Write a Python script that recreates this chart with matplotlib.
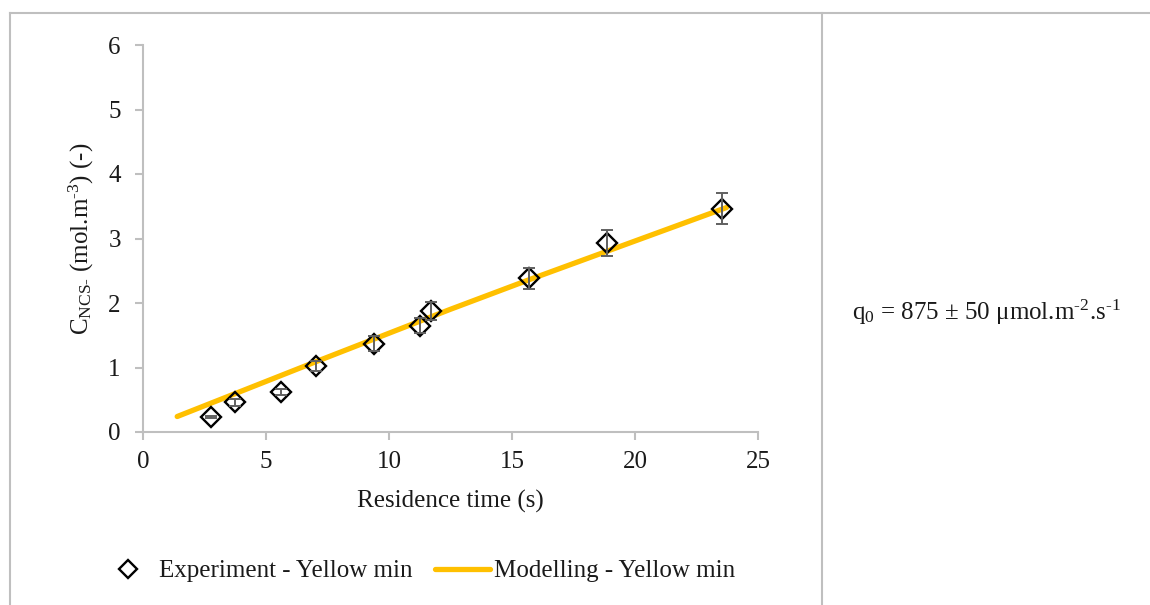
import matplotlib
matplotlib.use("Agg")
import matplotlib.pyplot as plt
from matplotlib.lines import Line2D

plt.rcParams['font.family'] = ['Liberation Serif', 'DejaVu Serif']
plt.rcParams['mathtext.fontset'] = 'custom'
plt.rcParams['mathtext.rm'] = 'Liberation Serif'
plt.rcParams['mathtext.it'] = 'Liberation Serif:italic'
plt.rcParams['mathtext.bf'] = 'Liberation Serif:bold'

# Experimental data
exp_time = [2.78, 3.74, 5.61, 7.03, 9.38, 11.27, 11.72, 15.69, 18.85, 23.55]
exp_conc = [0.23, 0.46, 0.62, 1.02, 1.37, 1.65, 1.88, 2.38, 2.93, 3.46]
exp_err = [0.02, 0.05, 0.05, 0.08, 0.12, 0.12, 0.14, 0.165, 0.20, 0.24]

# Model curve
mod_time = [1.39, 7.03, 12.48, 15.69, 23.72]
mod_conc = [0.24, 1.09, 1.90, 2.36, 3.48]

x_ticks = [0, 5, 10, 15, 20, 25]
y_ticks = [0, 1, 2, 3, 4, 5, 6]

W, H = 1150, 605
fig = plt.figure(figsize=(W / 100, H / 100), dpi=100)
ax = fig.add_axes([143 / W, 1 - 432 / H, (758 - 143) / W, (432 - 45) / H])

gray = '#bfbfbf'
txt = '#1a1a1a'
ax.plot(mod_time, mod_conc, color='#FFC000', lw=3.8, solid_capstyle='round', zorder=2,
        label='Modelling - Yellow min')
ax.plot(exp_time, exp_conc, linestyle='none', marker='D', ms=10.3, mfc='none',
        mec='black', mew=1.7, zorder=3, label='Experiment - Yellow min')
ax.errorbar(exp_time, exp_conc, yerr=exp_err, fmt='none', ecolor='#606060',
            elinewidth=1.4, capsize=4.5, capthick=1.4, zorder=4)

ax.set_xlim(0, 25)
ax.set_ylim(0, 6)
ax.set_xticks(x_ticks)
ax.set_yticks(y_ticks)
for s in ['top', 'right']:
    ax.spines[s].set_visible(False)
for s in ['left', 'bottom']:
    ax.spines[s].set_color(gray)
    ax.spines[s].set_linewidth(1.5)
ax.tick_params(axis='both', colors=gray, labelcolor=txt, labelsize=18,
               length=6, width=1.5, direction='out')
ax.tick_params(axis='y', pad=10)
ax.tick_params(axis='x', pad=8)

ax.set_xlabel('Residence time (s)', fontsize=18, color=txt, labelpad=12)
ax.set_ylabel(r'C$_{\mathrm{NCS\text{-}}}$ (mol.m$^{\text{-}3}$) (-)', fontsize=18,
              color=txt, labelpad=9)

handles = [Line2D([], [], linestyle='none', marker='D', ms=9.5, mfc='none', mec='black', mew=1.7),
           Line2D([], [], color='#FFC000', lw=3.8, solid_capstyle='round')]
labels = ['Experiment - Yellow min', 'Modelling - Yellow min']
fig.legend(handles, labels, loc='center', bbox_to_anchor=(418 / W, 1 - 571 / H),
           ncol=2, frameon=False, fontsize=18, handlelength=2.2, handletextpad=0.15,
           columnspacing=0.9, borderpad=0, labelcolor=txt)

fig.text(852 / W, 1 - 312 / H, r'q$_{0}$ = 875 ± 50 μmol.m$^{\text{-}2}$.s$^{\text{-}1}$',
         fontsize=18, color=txt, ha='left', va='center')

# frame lines
fig.add_artist(Line2D([10 / W, 1], [1 - 13 / H, 1 - 13 / H], color=gray, lw=1.5))
fig.add_artist(Line2D([10 / W, 10 / W], [0, 1 - 13 / H], color=gray, lw=1.5))
fig.add_artist(Line2D([822 / W, 822 / W], [0, 1 - 13 / H], color=gray, lw=1.5))

fig.savefig('out.png', dpi=100)
